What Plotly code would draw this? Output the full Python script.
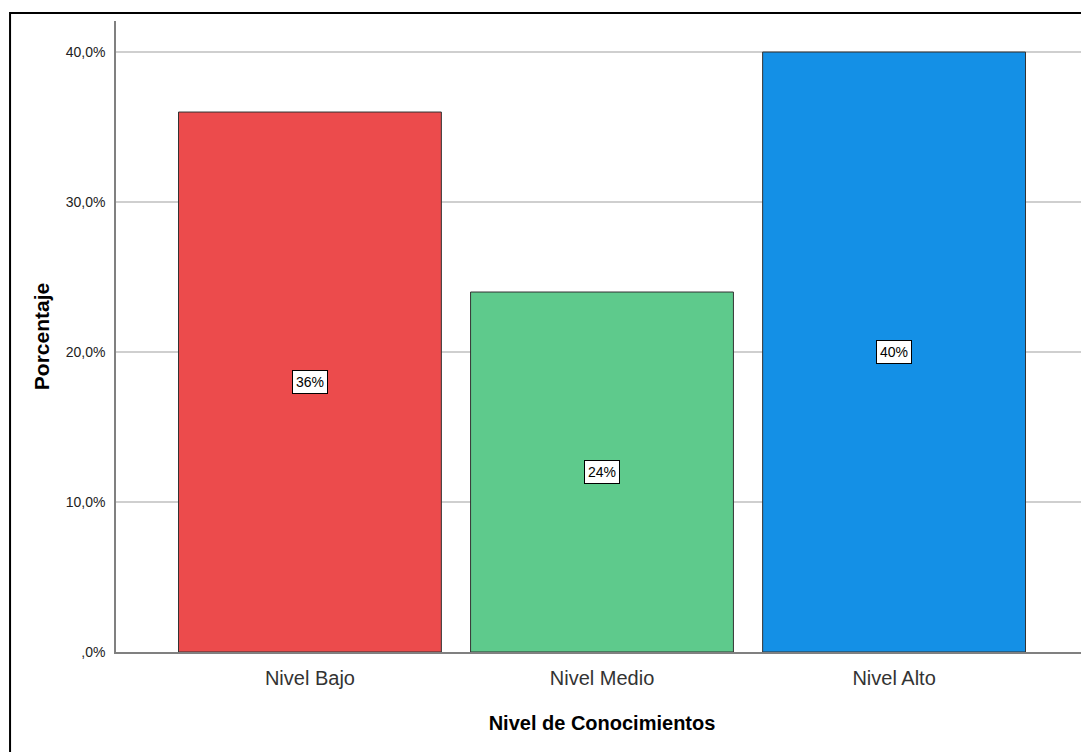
import plotly.graph_objects as go

categories = ["Nivel Bajo", "Nivel Medio", "Nivel Alto"]
percentages = [36, 24, 40]
bar_labels = ["36%", "24%", "40%"]
colors = ["#EC4B4C", "#5ECA8C", "#1490E6"]
y_tick_vals = [0, 10, 20, 30, 40]
y_tick_text = [",0%", "10,0%", "20,0%", "30,0%", "40,0%"]

NARROW = "Liberation Sans Narrow, Arial Narrow, Liberation Sans, Arial"
REG = "Liberation Sans, Arial"

fig = go.Figure()
fig.add_trace(go.Bar(
    x=[0, 1, 2], y=percentages,
    width=0.9,
    marker=dict(color=colors, line=dict(color="#333333", width=1)),
    hoverinfo="skip",
))

for i, (v, lab) in enumerate(zip(percentages, bar_labels)):
    fig.add_annotation(
        x=i, y=v / 2, text=lab, showarrow=False,
        font=dict(family=NARROW, size=14, color="#000000"),
        bgcolor="white", bordercolor="#000000", borderwidth=1, borderpad=3,
    )

# outer frame
fig.add_shape(type="rect", xref="paper", yref="paper",
              x0=-0.109, x1=1.2, y0=-0.3, y1=1.0127,
              line=dict(color="#000000", width=2), fillcolor="rgba(0,0,0,0)", layer="below")

fig.update_layout(
    width=1081, height=744,
    margin=dict(l=108, r=1, t=13, b=100),
    paper_bgcolor="white", plot_bgcolor="white",
    showlegend=False,
    font=dict(family=REG, color="#222222"),
    xaxis=dict(
        range=[-0.664, 2.664],
        tickvals=[0, 1, 2], ticktext=categories,
        tickfont=dict(family=NARROW, size=20, color="#333333"),
        ticklabelstandoff=7,
        showgrid=False, zeroline=False,
        showline=True, linecolor="#808080", linewidth=1.5,
        ticks="", ticklen=0,
        title=dict(text="<b>Nivel de Conocimientos</b>", font=dict(family=REG, size=20, color="#000000"), standoff=28),
    ),
    yaxis=dict(
        range=[0, 42.07],
        tickvals=y_tick_vals, ticktext=y_tick_text,
        tickfont=dict(family=NARROW, size=14, color="#222222"),
        ticklabelstandoff=6,
        showgrid=True, gridcolor="#CFCFCF", gridwidth=1.5,
        zeroline=False,
        showline=True, linecolor="#808080", linewidth=1.5,
        ticks="", ticklen=0,
        title=dict(text="<b>Porcentaje</b>", font=dict(family=REG, size=21, color="#000000"), standoff=10),
    ),
)

fig.write_html("out.html")
